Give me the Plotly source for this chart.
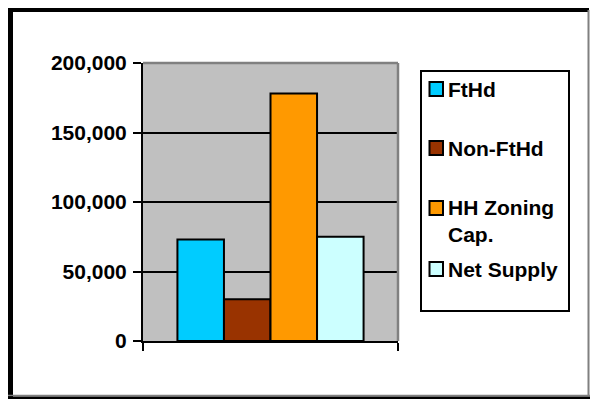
import plotly.graph_objects as go

# Housing capacity summary
series = ["FtHd", "Non-FtHd", "HH Zoning Cap.", "Net Supply"]
legend_labels = ["FtHd", "Non-FtHd", "HH Zoning<br>Cap.", "Net Supply"]
values = [73000, 30000, 178000, 75000]
colors = ["#00CCFF", "#993300", "#FF9900", "#CCFFFF"]
category = [""]
y_ticks = [0, 50000, 100000, 150000, 200000]

W, H = 590, 399
ML, MR, MT, MB = 143, 192, 63, 58
PW, PH = W - ML - MR, H - MT - MB
FONT = "Arial, Liberation Sans, sans-serif"
FS = 21


def xp(px):
    return (px - ML) / PW


def yp(py):
    return (H - MB - py) / PH


fig = go.Figure()
for name, val, col in zip(series, values, colors):
    fig.add_trace(go.Bar(
        x=category, y=[val], name=name,
        marker=dict(color=col, line=dict(color="black", width=2)),
        showlegend=False,
    ))

shapes = []
# outer chart frame
shapes += [
    dict(type="line", x0=xp(10.5), x1=xp(10.5), y0=yp(8), y1=yp(399),
         line=dict(color="black", width=5)),
    dict(type="line", x0=xp(8), x1=xp(589), y0=yp(10), y1=yp(10),
         line=dict(color="black", width=4)),
    dict(type="line", x0=xp(588.5), x1=xp(588.5), y0=yp(10), y1=yp(396),
         line=dict(color="#808080", width=2)),
    dict(type="line", x0=xp(8), x1=xp(590), y0=yp(395.5), y1=yp(395.5),
         line=dict(color="#808080", width=1.5)),
    dict(type="line", x0=xp(8), x1=xp(590), y0=yp(398), y1=yp(398),
         line=dict(color="black", width=3)),
]
# plot area border (top and right)
shapes += [
    dict(type="line", xref="paper", yref="paper", x0=0, x1=1, y0=1, y1=1,
         line=dict(color="#808080", width=2.5)),
    dict(type="line", xref="paper", yref="paper", x0=1, x1=1, y0=0, y1=1,
         line=dict(color="#808080", width=2.5)),
]
for s in shapes:
    s.setdefault("xref", "paper")
    s.setdefault("yref", "paper")
    s["layer"] = "above"

# legend box
LG_L, LG_R, LG_T, LG_B = 421, 569, 71, 311
shapes.append(dict(type="rect", xref="paper", yref="paper",
                   x0=xp(LG_L), x1=xp(LG_R), y0=yp(LG_B), y1=yp(LG_T),
                   line=dict(color="black", width=2), fillcolor="white",
                   layer="above"))

row_y = [89, 148, 208, 269]
line_h = 26.5
annotations = []
for lab, col, ry in zip(legend_labels, colors, row_y):
    shapes.append(dict(type="rect", xref="paper", yref="paper",
                       x0=xp(429.5), x1=xp(443), y0=yp(ry + 7), y1=yp(ry - 7),
                       line=dict(color="black", width=2), fillcolor=col,
                       layer="above"))
    n_lines = lab.count("<br>") + 1
    cy = ry + (n_lines - 1) * line_h / 2
    annotations.append(dict(
        text=lab, xref="paper", yref="paper", x=xp(445.5), y=yp(cy),
        xanchor="left", yanchor="middle", align="left", showarrow=False,
        font=dict(family=FONT, size=FS, color="black", weight="bold"),
    ))

fig.update_layout(
    template="none",
    width=W, height=H,
    margin=dict(l=ML, r=MR, t=MT, b=MB, autoexpand=False),
    paper_bgcolor="white",
    plot_bgcolor="#C0C0C0",
    barmode="group",
    bargap=0.27,
    bargroupgap=0,
    showlegend=False,
    font=dict(family=FONT, size=FS, color="black", weight="bold"),
    shapes=shapes,
    annotations=annotations,
    xaxis=dict(
        type="category", showgrid=False, showticklabels=False,
        showline=True, linecolor="black", linewidth=2,
        ticks="outside", tickson="boundaries", ticklen=8, tickwidth=2,
        tickcolor="black", automargin=False, zeroline=False,
    ),
    yaxis=dict(
        range=[0, 200000], tickvals=y_ticks, tickformat=",d",
        showgrid=True, gridcolor="black", gridwidth=2,
        showline=True, linecolor="black", linewidth=2,
        ticks="outside", ticklen=8, tickwidth=2, tickcolor="black",
        ticklabelstandoff=2, zeroline=False, automargin=False,
        tickfont=dict(family=FONT, size=FS, color="black", weight="bold"),
    ),
)

fig.write_html("out.html")
